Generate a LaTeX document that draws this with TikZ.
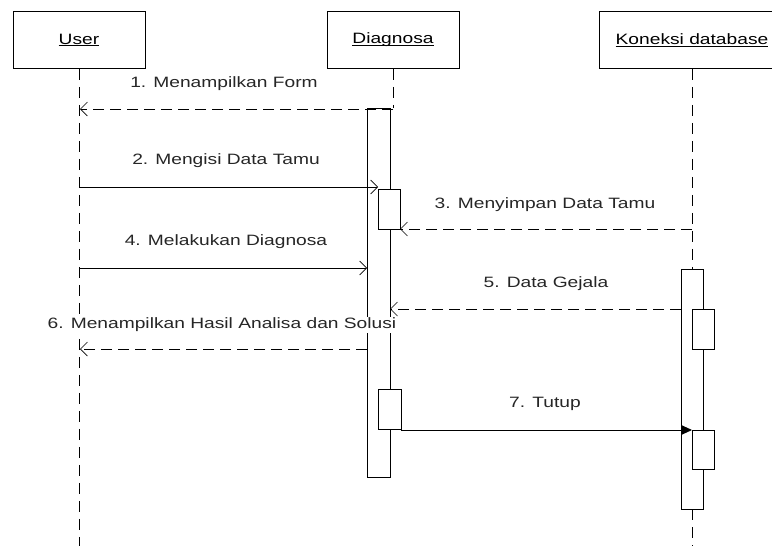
\documentclass[tikz,border=0pt]{standalone}
\usepackage{fontspec}
\setmainfont{Liberation Sans}[FakeStretch=1.28]
\usetikzlibrary{arrows.meta}
% underline drawn just under the baseline, crossing descenders
\newcommand\objname[1]{\setbox0\hbox{#1}\rlap{\rule[-2.2pt]{\wd0}{0.9pt}}\box0}
\begin{document}
\begin{tikzpicture}[x=1pt,y=-1pt,
  lbl/.style={font=\fontsize{15}{18}\selectfont, text=black!85, inner sep=0pt},
  objbox/.style={draw, line width=0.9pt, minimum height=57pt, inner sep=0pt, font=\fontsize{15}{18}\selectfont},
  life/.style={line width=0.9pt, dash pattern=on 11pt off 7pt},
  actbar/.style={draw, line width=0.9pt, fill=white},
  callmsg/.style={line width=0.9pt, -{Straight Barb[length=7pt,width=14pt,line width=0.7pt]}},
  retmsg/.style={line width=0.9pt, dash pattern=on 11pt off 6pt, -{Straight Barb[length=7pt,width=14pt,line width=0.7pt]}},
  syncmsg/.style={line width=0.9pt, -{Triangle[length=10pt,width=9pt]}}]
\useasboundingbox (0,0) rectangle (772,546);
\fill[white] (0,0) rectangle (772,546);

% objects
\node[objbox, minimum width=132pt] (user) at (79,40) {\objname{User}};
\node[objbox, minimum width=132pt] (diag) at (393,40) {\objname{Diagnosa}};
\node[objbox, minimum width=186pt] (db) at (692,40) {\objname{Koneksi database}};

% lifelines
\coordinate (uend) at (79,546);
\coordinate (dtop) at (393,108);
\coordinate (dbtop) at (692,269);
\coordinate (dbend) at (692,546);
\draw[life] (user.south) -- (uend);
\draw[life] (diag.south) -- (dtop);
\draw[life] (db.south) -- (dbtop);
\draw[life] (692,509) -- (dbend);

% activation bars
\draw[actbar] (367,108) rectangle (390,477);
\draw[actbar] (378,189) rectangle (400,229);
\draw[actbar] (378,389) rectangle (401,429);
\draw[actbar] (681,269) rectangle (703,509);
\draw[actbar] (692,309) rectangle (714,349);
\draw[actbar] (692,430) rectangle (714,469);

% message end points
\coordinate (m1a) at (393,109); \coordinate (m1b) at (80,109);
\coordinate (m2a) at (79,187);  \coordinate (m2b) at (378,187);
\coordinate (m3a) at (692,229); \coordinate (m3b) at (400,229);
\coordinate (m4a) at (79,268);  \coordinate (m4b) at (367,268);
\coordinate (m5a) at (681,309); \coordinate (m5b) at (390,309);
\coordinate (m6a) at (367,349); \coordinate (m6b) at (80,349);
\coordinate (m7a) at (401,430); \coordinate (m7b) at (692,430);

% messages
\draw[retmsg] (m1a) -- (m1b);
\draw[callmsg] (m2a) -- (m2b);
\draw[retmsg] (m3a) -- (m3b);
\draw[callmsg] (m4a) -- (m4b);
\draw[retmsg] (m5a) -- (m5b);
\draw[retmsg] (m6a) -- (m6b);
\draw[syncmsg] (m7a) -- (m7b);

% labels
\node[lbl] (l1) at (224,84) {1. Menampilkan Form};
\node[lbl] (l2) at (226,161) {2. Mengisi Data Tamu};
\node[lbl] (l3) at (545,205) {3. Menyimpan Data Tamu};
\node[lbl] (l4) at (226,242) {4. Melakukan Diagnosa};
\node[lbl] (l5) at (546,284) {5. Data Gejala};
\node[lbl, fill=white, inner sep=1pt] (l6) at (222,325) {6. Menampilkan Hasil Analisa dan Solusi};
\node[lbl] (l7) at (545,404) {7. Tutup};
\end{tikzpicture}
\end{document}
